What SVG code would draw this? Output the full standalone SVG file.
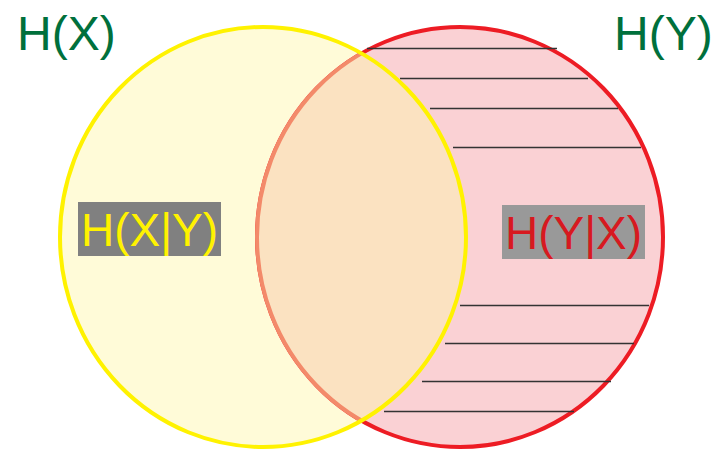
<svg xmlns="http://www.w3.org/2000/svg" width="717" height="449" viewBox="0 0 717 449">
<style>
.lbl{font-family:"Liberation Sans",Arial,sans-serif;font-size:46px}
.title{fill:#00703C;font-size:48px}
.hatch{stroke:#333333;stroke-width:1.3}
</style>
<defs>
<clipPath id="clipX"><ellipse cx="263" cy="237" rx="203" ry="210"/></clipPath>
</defs>
<rect width="717" height="449" fill="#ffffff"/>
<g id="HX-circle">
<ellipse cx="263" cy="237" rx="203" ry="210" fill="#FFFBD8"/>
</g>
<g id="HY-circle">
<ellipse cx="460" cy="237" rx="203" ry="210" fill="#FAD1D4" stroke="#ED1C24" stroke-width="4"/>
<g clip-path="url(#clipX)">
<ellipse cx="460" cy="237" rx="203" ry="210" fill="#FBE2C1" stroke="#F38A6A" stroke-width="4"/>
</g>
</g>
<g id="connectors">
<line class="hatch" x1="367" y1="48.5" x2="557" y2="48.5"/>
<line class="hatch" x1="400" y1="78.5" x2="588" y2="78.5"/>
<line class="hatch" x1="430" y1="108.5" x2="618" y2="108.5"/>
<line class="hatch" x1="453" y1="147.5" x2="641" y2="147.5"/>
<line class="hatch" x1="460" y1="305.5" x2="649" y2="305.5"/>
<line class="hatch" x1="445" y1="343.5" x2="634" y2="343.5"/>
<line class="hatch" x1="422" y1="381.5" x2="611" y2="381.5"/>
<line class="hatch" x1="384" y1="411.5" x2="574" y2="411.5"/>
</g>
<g id="HX-outline">
<ellipse cx="263" cy="237" rx="203" ry="210" fill="none" stroke="#FFF200" stroke-width="4"/>
</g>
<g id="HX-label">
<text class="lbl title" x="17" y="50">H(X)</text>
</g>
<g id="HY-label">
<text class="lbl title" x="614" y="50">H(Y)</text>
</g>
<g id="HXgivenY">
<rect x="78" y="202" width="143" height="54" fill="#808080"/>
<text class="lbl" x="149.5" y="246" text-anchor="middle" fill="#FFF200">H(X|Y)</text>
</g>
<g id="HYgivenX">
<rect x="502" y="205" width="143" height="54" fill="#999999"/>
<text class="lbl" x="573.5" y="249" text-anchor="middle" fill="#D71920">H(Y|X)</text>
</g>
</svg>
